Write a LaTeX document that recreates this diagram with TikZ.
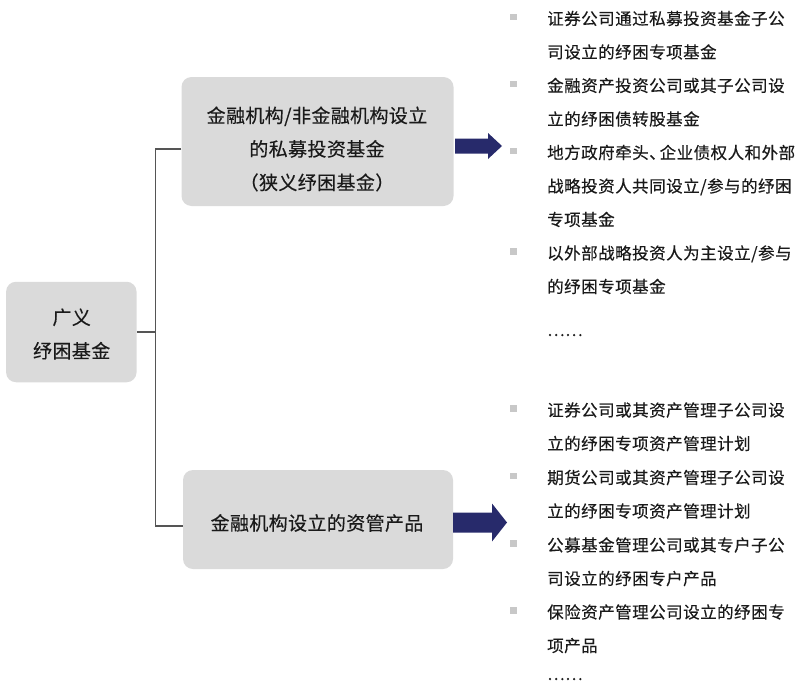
\documentclass[tikz,border=0pt]{standalone}
\usepackage{fontspec}
\setmainfont{Noto Sans CJK SC}
\newfontfamily\boxfont[LetterSpace=2,FakeBold=0.3]{Noto Sans CJK SC}
\newfontfamily\listfont[LetterSpace=3,FakeBold=0.3]{Noto Sans CJK SC}
\definecolor{boxgray}{HTML}{DADADA}
\definecolor{txt}{HTML}{1A1A1A}
\definecolor{bul}{HTML}{C8C8C8}
\definecolor{navy}{HTML}{272A6B}
\definecolor{conncol}{HTML}{555555}
\tikzset{
  graybox/.style={draw=none,fill=boxgray,rounded corners=10pt,inner sep=0pt},
  boxtext/.style={font=\boxfont\fontsize{19}{33.5}\selectfont,text=txt,align=center,inner sep=0pt},
  itemtext/.style={font=\listfont\fontsize{16.5}{33.5}\selectfont,text=txt,align=left,inner sep=0pt,anchor=base west},
  bulletsq/.style={fill=bul,draw=none,minimum size=6.5pt,inner sep=0pt},
  conn/.style={draw=conncol,line width=1.2pt},
  bigarrow/.style={fill=navy,draw=none}
}
\begin{document}
\begin{tikzpicture}[x=1pt,y=-1pt]
\useasboundingbox (0,0) rectangle (800,685);
% boxes
\node[graybox,minimum width=130.5pt,minimum height=100.5pt] (L) at (71.3,332) {};
\node[boxtext] (Lt) at (71.7,334) {广义\\纾困基金};
\node[graybox,minimum width=272pt,minimum height=129pt] (b1) at (317.5,141.5) {};
\node[boxtext] (b1t) at (317,149) {金融机构/非金融机构设立\\的私募投资基金\\（狭义纾困基金）};
\node[graybox,minimum width=270pt,minimum height=99pt] (b2) at (318,519.5) {};
\node[boxtext] (b2t) at (317,523) {金融机构设立的资管产品};
% connectors
\coordinate (j1) at (155.5,149);
\coordinate (j2) at (155.5,526);
\draw[conn] (j1 -| b1.west) -- (j1) -- (j2) -- (j2 -| b2.west);
\draw[conn] (L.east) -- (L.east -| j1);
% arrows
\coordinate (a1) at (455,146);
\fill[bigarrow] (a1) ++(0,-7.5) -- ++(33,0) -- ++(0,-5.5) -- ++(14,13) -- ++(-14,13) -- ++(0,-5.5) -- ++(-33,0) -- cycle;
\coordinate (a2) at (453,522.5);
\fill[bigarrow] (a2) ++(0,-10) -- ++(39,0) -- ++(0,-9) -- ++(15,19) -- ++(-15,19) -- ++(0,-9) -- ++(-39,0) -- cycle;
% bullets
\foreach \y/\n in {18.5/p1,85.5/p2,152.5/p3,253/p4,410/q1,477.5/q2,545/q3,612/q4}{
  \node[bulletsq] (s\n) at (513.5,\y-1.5) {};
}
% top list (anchor = baseline of last line)
\node[itemtext] (p1) at (547,58.3) {证券公司通过私募投资基金子公\\司设立的纾困专项基金};
\node[itemtext] (p2) at (547,125.3) {金融资产投资公司或其子公司设\\立的纾困债转股基金};
\node[itemtext] (p3) at (547,225.8) {地方政府牵头、\kern-6pt企业债权人和外部\\战略投资人共同设立/参与的纾困\\专项基金};
\node[itemtext] (p4) at (547,292.8) {以外部战略投资人为主设立/参与\\的纾困专项基金};
\node[itemtext] (p5) at (547,336) {……};
% bottom list
\node[itemtext] (q1) at (547,449.8) {证券公司或其资产管理子公司设\\立的纾困专项资产管理计划};
\node[itemtext] (q2) at (547,517.3) {期货公司或其资产管理子公司设\\立的纾困专项资产管理计划};
\node[itemtext] (q3) at (547,584.8) {公募基金管理公司或其专户子公\\司设立的纾困专户产品};
\node[itemtext] (q4) at (547,651.8) {保险资产管理公司设立的纾困专\\项产品};
\node[itemtext] (q5) at (547,680) {……};
\end{tikzpicture}
\end{document}
